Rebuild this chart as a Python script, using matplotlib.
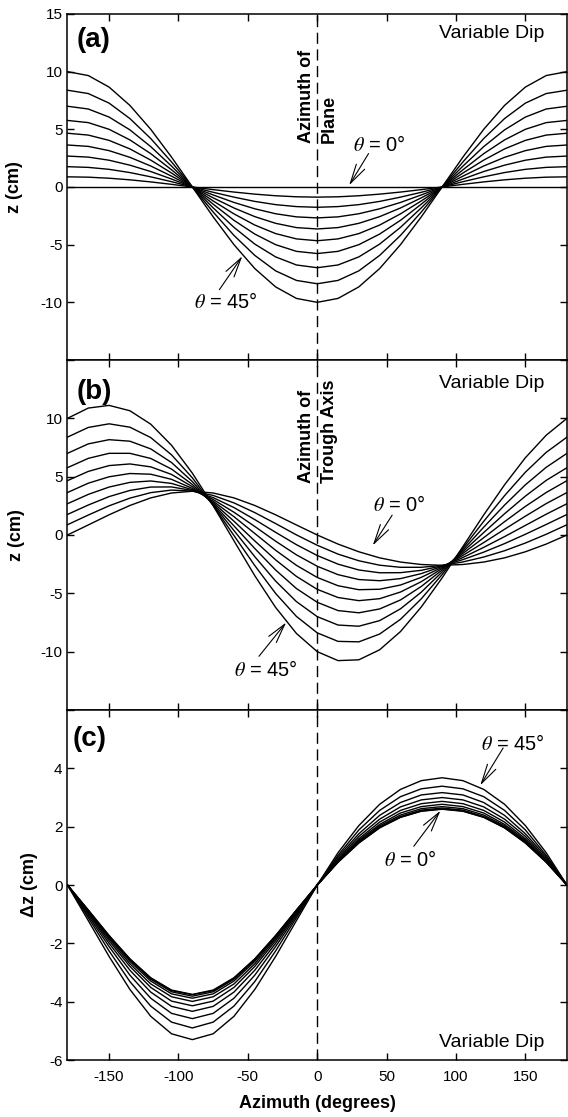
import numpy as np
import matplotlib
matplotlib.use("Agg")
from matplotlib import pyplot as plt

plt.rcParams['font.family'] = ['Liberation Sans', 'DejaVu Sans']
plt.rcParams['mathtext.fontset'] = 'stix'
plt.rcParams['axes.unicode_minus'] = False

# azimuth (degrees), read every 15 deg
az = [-180, -165, -150, -135, -120, -105, -90, -75, -60, -45, -30, -15, 0,
      15, 30, 45, 60, 75, 90, 105, 120, 135, 150, 165, 180]

dips = [0, 5, 10, 15, 20, 25, 30, 35, 40, 45]

# (a) plane, one row per dip
z_plane = [
    [0]*25,
    [0.88, 0.85, 0.76, 0.62, 0.44, 0.23, 0, -0.23, -0.44, -0.62, -0.76, -0.85, -0.88, -0.85, -0.76, -0.62, -0.44, -0.23, 0, 0.23, 0.44, 0.62, 0.76, 0.85, 0.88],
    [1.76, 1.70, 1.53, 1.25, 0.88, 0.46, 0, -0.46, -0.88, -1.25, -1.53, -1.70, -1.76, -1.70, -1.53, -1.25, -0.88, -0.46, 0, 0.46, 0.88, 1.25, 1.53, 1.70, 1.76],
    [2.68, 2.59, 2.32, 1.89, 1.34, 0.69, 0, -0.69, -1.34, -1.89, -2.32, -2.59, -2.68, -2.59, -2.32, -1.89, -1.34, -0.69, 0, 0.69, 1.34, 1.89, 2.32, 2.59, 2.68],
    [3.64, 3.52, 3.15, 2.57, 1.82, 0.94, 0, -0.94, -1.82, -2.57, -3.15, -3.52, -3.64, -3.52, -3.15, -2.57, -1.82, -0.94, 0, 0.94, 1.82, 2.57, 3.15, 3.52, 3.64],
    [4.66, 4.50, 4.04, 3.30, 2.33, 1.21, 0, -1.21, -2.33, -3.30, -4.04, -4.50, -4.66, -4.50, -4.04, -3.30, -2.33, -1.21, 0, 1.21, 2.33, 3.30, 4.04, 4.50, 4.66],
    [5.77, 5.58, 5.00, 4.08, 2.89, 1.49, 0, -1.49, -2.89, -4.08, -5.00, -5.58, -5.77, -5.58, -5.00, -4.08, -2.89, -1.49, 0, 1.49, 2.89, 4.08, 5.00, 5.58, 5.77],
    [7.00, 6.76, 6.06, 4.95, 3.50, 1.81, 0, -1.81, -3.50, -4.95, -6.06, -6.76, -7.00, -6.76, -6.06, -4.95, -3.50, -1.81, 0, 1.81, 3.50, 4.95, 6.06, 6.76, 7.00],
    [8.39, 8.10, 7.27, 5.93, 4.20, 2.17, 0, -2.17, -4.20, -5.93, -7.27, -8.10, -8.39, -8.10, -7.27, -5.93, -4.20, -2.17, 0, 2.17, 4.20, 5.93, 7.27, 8.10, 8.39],
    [10.0, 9.66, 8.66, 7.07, 5.00, 2.59, 0, -2.59, -5.00, -7.07, -8.66, -9.66, -10.0, -9.66, -8.66, -7.07, -5.00, -2.59, 0, 2.59, 5.00, 7.07, 8.66, 9.66, 10.0],
]

# (b) trough
z_trough = [
    [0, 0.86, 1.73, 2.53, 3.18, 3.60, 3.75, 3.60, 3.18, 2.53, 1.73, 0.86, 0, -0.78, -1.44, -1.96, -2.32, -2.53, -2.60, -2.53, -2.32, -1.96, -1.44, -0.78, 0],
    [0.88, 1.71, 2.50, 3.16, 3.63, 3.85, 3.76, 3.39, 2.75, 1.92, 0.98, 0.01, -0.88, -1.64, -2.21, -2.59, -2.77, -2.77, -2.61, -2.31, -1.89, -1.35, -0.69, 0.06, 0.88],
    [1.76, 2.57, 3.29, 3.82, 4.11, 4.12, 3.81, 3.20, 2.35, 1.32, 0.23, -0.83, -1.76, -2.50, -3.00, -3.24, -3.23, -3.03, -2.64, -2.11, -1.47, -0.74, 0.06, 0.90, 1.76],
    [2.68, 3.48, 4.11, 4.51, 4.63, 4.42, 3.88, 3.04, 1.95, 0.73, -0.53, -1.70, -2.68, -3.40, -3.82, -3.92, -3.74, -3.31, -2.69, -1.93, -1.06, -0.14, 0.82, 1.78, 2.68],
    [3.64, 4.44, 4.99, 5.27, 5.21, 4.77, 3.99, 2.89, 1.57, 0.13, -1.31, -2.60, -3.64, -4.35, -4.69, -4.65, -4.29, -3.63, -2.77, -1.75, -0.65, 0.49, 1.61, 2.69, 3.64],
    [4.66, 5.45, 5.95, 6.09, 5.84, 5.19, 4.14, 2.77, 1.18, -0.51, -2.13, -3.55, -4.66, -5.36, -5.63, -5.46, -4.89, -4.00, -2.87, -1.58, -0.23, 1.14, 2.45, 3.64, 4.66],
    [5.77, 6.57, 7.00, 7.00, 6.56, 5.65, 4.33, 2.67, 0.78, -1.16, -3.00, -4.59, -5.77, -6.48, -6.67, -6.34, -5.57, -4.41, -3.00, -1.43, 0.21, 1.82, 3.33, 4.68, 5.77],
    [7.00, 7.81, 8.17, 8.04, 7.38, 6.21, 4.58, 2.59, 0.38, -1.86, -3.95, -5.71, -7.00, -7.72, -7.82, -7.34, -6.33, -4.90, -3.17, -1.28, 0.67, 2.56, 4.30, 5.80, 7.00],
    [8.39, 9.22, 9.53, 9.24, 8.35, 6.87, 4.90, 2.53, -0.05, -2.62, -5.01, -6.98, -8.39, -9.12, -9.16, -8.49, -7.23, -5.47, -3.39, -1.13, 1.17, 3.37, 5.38, 7.08, 8.39],
    [10.0, 10.88, 11.11, 10.65, 9.50, 7.69, 5.30, 2.51, -0.50, -3.49, -6.21, -8.44, -10.0, -10.77, -10.70, -9.84, -8.28, -6.17, -3.68, -0.99, 1.72, 4.30, 6.62, 8.55, 10.0],
]

# (c) difference
dz = [
    [0, -0.86, -1.73, -2.53, -3.18, -3.60, -3.75, -3.60, -3.18, -2.53, -1.73, -0.86, 0, 0.78, 1.44, 1.96, 2.32, 2.53, 2.60, 2.53, 2.32, 1.96, 1.44, 0.78, 0],
    [0, -0.86, -1.74, -2.54, -3.19, -3.62, -3.76, -3.62, -3.19, -2.54, -1.74, -0.86, 0, 0.79, 1.45, 1.97, 2.33, 2.54, 2.61, 2.54, 2.33, 1.97, 1.45, 0.79, 0],
    [0, -0.87, -1.76, -2.57, -3.23, -3.66, -3.81, -3.66, -3.23, -2.57, -1.76, -0.87, 0, 0.80, 1.47, 1.99, 2.35, 2.57, 2.64, 2.57, 2.35, 1.99, 1.47, 0.80, 0],
    [0, -0.89, -1.79, -2.62, -3.29, -3.73, -3.88, -3.73, -3.29, -2.62, -1.79, -0.89, 0, 0.81, 1.50, 2.03, 2.40, 2.62, 2.69, 2.62, 2.40, 2.03, 1.50, 0.81, 0],
    [0, -0.92, -1.84, -2.70, -3.39, -3.83, -3.99, -3.83, -3.39, -2.70, -1.84, -0.92, 0, 0.83, 1.54, 2.08, 2.47, 2.69, 2.77, 2.69, 2.47, 2.08, 1.54, 0.83, 0],
    [0, -0.95, -1.91, -2.79, -3.51, -3.98, -4.14, -3.98, -3.51, -2.79, -1.91, -0.95, 0, 0.86, 1.59, 2.16, 2.56, 2.79, 2.87, 2.79, 2.56, 2.16, 1.59, 0.86, 0],
    [0, -0.99, -2.00, -2.92, -3.67, -4.16, -4.33, -4.16, -3.67, -2.92, -2.00, -0.99, 0, 0.90, 1.67, 2.26, 2.68, 2.92, 3.00, 2.92, 2.68, 2.26, 1.67, 0.90, 0],
    [0, -1.05, -2.11, -3.09, -3.88, -4.40, -4.58, -4.40, -3.88, -3.09, -2.11, -1.05, 0, 0.96, 1.76, 2.39, 2.83, 3.09, 3.17, 3.09, 2.83, 2.39, 1.76, 0.96, 0],
    [0, -1.12, -2.26, -3.31, -4.15, -4.70, -4.90, -4.70, -4.15, -3.31, -2.26, -1.12, 0, 1.02, 1.89, 2.56, 3.03, 3.30, 3.39, 3.30, 3.03, 2.56, 1.89, 1.02, 0],
    [0, -1.22, -2.45, -3.58, -4.50, -5.10, -5.30, -5.10, -4.50, -3.58, -2.45, -1.22, 0, 1.11, 2.04, 2.77, 3.28, 3.58, 3.68, 3.58, 3.28, 2.77, 2.04, 1.11, 0],
]

xticks = [-150, -100, -50, 0, 50, 100, 150]

fig = plt.figure(figsize=(5.68, 11.17), dpi=100)
L, W = 0.1188, 0.8794
ax1 = fig.add_axes([L, 0.6777, W, 0.3098])
ax2 = fig.add_axes([L, 0.3644, W, 0.3133])
ax3 = fig.add_axes([L, 0.0510, W, 0.3133])

for ax, data in zip([ax1, ax2, ax3], [z_plane, z_trough, dz]):
    for row in data:
        ax.plot(az, row, color='k', lw=1.0, solid_joinstyle='round')
    ax.axvline(0, color='k', lw=1.0, ls=(0, (8, 4)))
    ax.set_xlim(-180, 180)
    ax.set_xticks(xticks)
    ax.tick_params(direction='in', top=True, right=True, length=5, width=1, labelsize=11)
    for s in ax.spines.values():
        s.set_linewidth(1.1)

ax1.set_ylim(-15, 15)
ax1.set_yticks([-15, -10, -5, 0, 5, 10, 15])
ax1.set_yticklabels(['', '-10', '-5', '0', '5', '10', '15'])
ax2.set_ylim(-15, 15)
ax2.set_yticks([-15, -10, -5, 0, 5, 10, 15])
ax2.set_yticklabels(['', '-10', '-5', '0', '5', '10', ''])
ax3.set_ylim(-6, 6)
ax3.set_yticks([-6, -4, -2, 0, 2, 4, 6])
ax3.set_yticklabels(['-6', '-4', '-2', '0', '2', '4', ''])
ax1.set_xticklabels([])
ax2.set_xticklabels([])
ax3.tick_params(axis='x', pad=7)

ax1.set_ylabel('z (cm)', fontsize=13, fontweight='bold')
ax2.set_ylabel('z (cm)', fontsize=13, fontweight='bold')
ax3.set_ylabel('Δz (cm)', fontsize=13, fontweight='bold')
ax1.yaxis.set_label_coords(-0.089, 0.5)
ax2.yaxis.set_label_coords(-0.085, 0.5)
ax3.yaxis.set_label_coords(-0.059, 0.5)
ax3.set_xlabel('Azimuth (degrees)', fontsize=13, fontweight='bold', labelpad=8)

# panel letters and labels
ax1.text(-173.5, 12.7, '(a)', fontsize=20, fontweight='bold', va='center')
ax2.text(-173.5, 12.3, '(b)', fontsize=20, fontweight='bold', va='center')
ax3.text(-176, 5.0, '(c)', fontsize=20, fontweight='bold', va='center')
ax1.text(164, 13.3, 'Variable Dip', fontsize=14, ha='right', va='center')
ax2.text(164, 13.0, 'Variable Dip', fontsize=14, ha='right', va='center')
ax3.text(164, -5.4, 'Variable Dip', fontsize=14, ha='right', va='center')

ax1.text(0.5, 3.8, 'Azimuth of\nPlane', rotation=90, fontsize=13, fontweight='bold',
         ha='center', va='bottom', multialignment='left', linespacing=1.45)
ax2.text(0.5, 4.45, 'Azimuth of\nTrough Axis', rotation=90, fontsize=13, fontweight='bold',
         ha='center', va='bottom', multialignment='left', linespacing=1.45)

arw = dict(arrowstyle='->,head_length=1.4,head_width=0.35', color='k', lw=0.8,
           shrinkA=0, shrinkB=0, mutation_scale=10)

def label(ax, txt, tpos, tail, tip):
    ax.text(tpos[0], tpos[1], txt, fontsize=14.5, ha='center', va='center')
    ax.annotate('', xy=tip, xytext=tail, arrowprops=arw)

label(ax1, r'$\theta$ = 0°', (45, 3.6), (37, 2.9), (23, 0.15))
label(ax1, r'$\theta$ = 45°', (-66, -10.0), (-70.5, -8.9), (-54, -6.0))
label(ax2, r'$\theta$ = 0°', (59, 2.6), (54, 1.7), (40, -0.9))
label(ax2, r'$\theta$ = 45°', (-37, -11.6), (-42, -10.4), (-22.4, -7.5))
label(ax3, r'$\theta$ = 45°', (141, 4.85), (134, 4.7), (117.5, 3.42))
label(ax3, r'$\theta$ = 0°', (67, 0.85), (69.6, 1.33), (88.8, 2.55))

plt.savefig('out.png', dpi=100)
